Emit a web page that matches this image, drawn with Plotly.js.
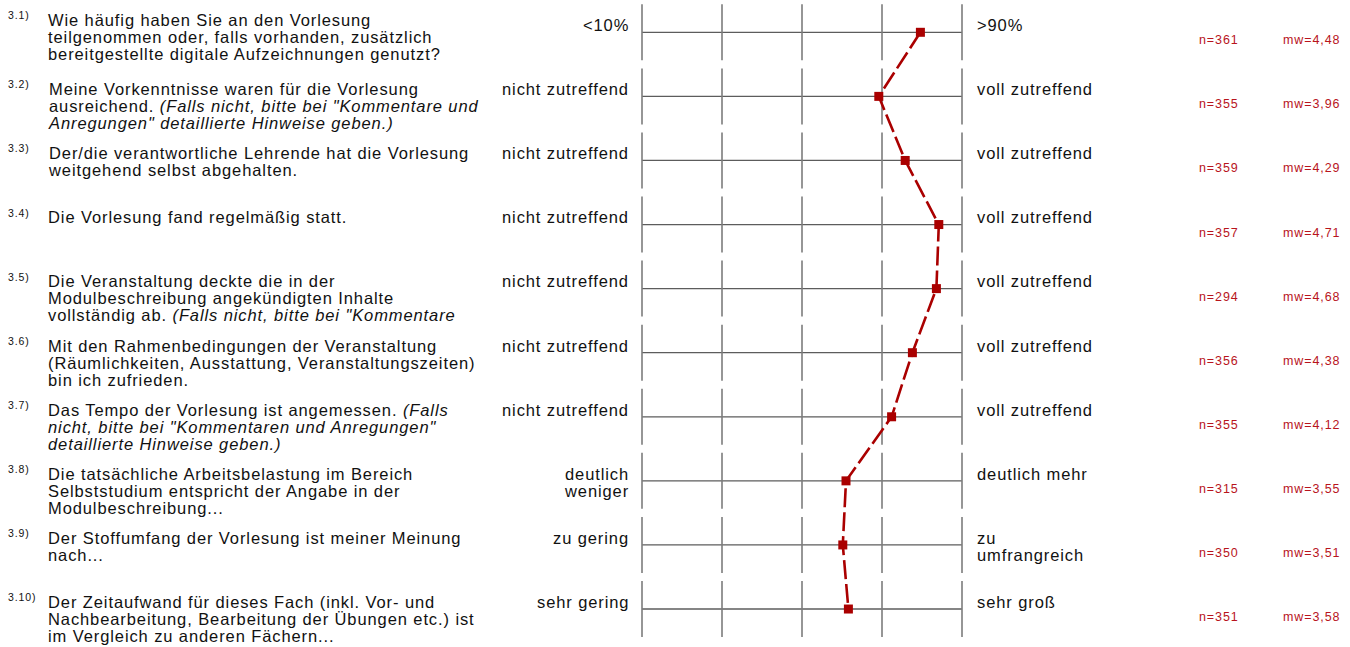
<!DOCTYPE html>
<html>
<head>
<meta charset="utf-8">
<script src="https://cdn.plot.ly/plotly-3.0.1.min.js"></script>
<style>
  html, body { margin: 0; padding: 0; background: #fff; }
  #chart { width: 1350px; height: 647px; }
  .annotation-text { letter-spacing: 0.9px; }
</style>
</head>
<body>
<div id="chart"></div>
<script>
// ---- data ----
const questionNumbers = ['3.1)', '3.2)', '3.3)', '3.4)', '3.5)', '3.6)', '3.7)', '3.8)', '3.9)', '3.10)'];
const questionLines = [
  ['Wie häufig haben Sie an den Vorlesung', 'teilgenommen oder, falls vorhanden, zusätzlich', 'bereitgestellte digitale Aufzeichnungen genutzt?'],
  ['Meine Vorkenntnisse waren für die Vorlesung', 'ausreichend. <i>(Falls nicht, bitte bei "Kommentare und</i>', '<i>Anregungen" detaillierte Hinweise geben.)</i>'],
  ['Der/die verantwortliche Lehrende hat die Vorlesung', 'weitgehend selbst abgehalten.'],
  ['Die Vorlesung fand regelmäßig statt.'],
  ['Die Veranstaltung deckte die in der', 'Modulbeschreibung angekündigten Inhalte', 'vollständig ab. <i>(Falls nicht, bitte bei "Kommentare</i>'],
  ['Mit den Rahmenbedingungen der Veranstaltung', '(Räumlichkeiten, Ausstattung, Veranstaltungszeiten)', 'bin ich zufrieden.'],
  ['Das Tempo der Vorlesung ist angemessen. <i>(Falls</i>', '<i>nicht, bitte bei "Kommentaren und Anregungen"</i>', '<i>detaillierte Hinweise geben.)</i>'],
  ['Die tatsächliche Arbeitsbelastung im Bereich', 'Selbststudium entspricht der Angabe in der', 'Modulbeschreibung...'],
  ['Der Stoffumfang der Vorlesung ist meiner Meinung', 'nach...'],
  ['Der Zeitaufwand für dieses Fach (inkl. Vor- und', 'Nachbearbeitung, Bearbeitung der Übungen etc.) ist', 'im Vergleich zu anderen Fächern...']
];
const leftLabels = [
  ['<10%'], ['nicht zutreffend'], ['nicht zutreffend'], ['nicht zutreffend'], ['nicht zutreffend'],
  ['nicht zutreffend'], ['nicht zutreffend'], ['deutlich', 'weniger'], ['zu gering'], ['sehr gering']
];
const rightLabels = [
  ['>90%'], ['voll zutreffend'], ['voll zutreffend'], ['voll zutreffend'], ['voll zutreffend'],
  ['voll zutreffend'], ['voll zutreffend'], ['deutlich mehr'], ['zu', 'umfrangreich'], ['sehr groß']
];
const nValues = [361, 355, 359, 357, 294, 356, 355, 315, 350, 351];
const meanValues = [4.48, 3.96, 4.29, 4.71, 4.68, 4.38, 4.12, 3.55, 3.51, 3.58];
const scaleTicks = [1, 2, 3, 4, 5];

// ---- layout helpers (pixel geometry) ----
const W = 1350, H = 647;
const pxPerUnitX = 80, xAtOnePx = 642;
const rowTopPx = 32.3, rowStepPx = 64.08;
const xRange = [1 - xAtOnePx / pxPerUnitX, 1 + (W - xAtOnePx) / pxPerUnitX];
const yRange = [(H - rowTopPx) / rowStepPx, -rowTopPx / rowStepPx];
const half = 28 / rowStepPx;
const px = p => p / W;

const font = 'Liberation Sans, Arial, Helvetica, sans-serif';
const textColor = '#111111';
const redText = '#b8141c';
const mainSize = 16.5, lineGapPx = 16.9;
const topShift = 17.2;
const rowIdx = questionNumbers.map((_, i) => i);

const shapes = [];
const annotations = [];
function block(lines, xPx, anchor, i, lift) {
  annotations.push({xref: 'paper', yref: 'y', x: px(xPx), y: i, yshift: topShift + lift,
                    xanchor: anchor, yanchor: 'top', align: anchor,
                    text: lines.join('<br>'), showarrow: false, borderpad: 0,
                    font: {family: font, size: mainSize, color: textColor}});
}
rowIdx.forEach(i => {
  shapes.push({type: 'line', xref: 'x', yref: 'y', x0: scaleTicks[0], x1: scaleTicks[scaleTicks.length - 1],
               y0: i, y1: i, line: {color: '#5c5c5c', width: 1.3}, layer: 'below'});
  scaleTicks.forEach(t => {
    shapes.push({type: 'line', xref: 'x', yref: 'y', x0: t, x1: t, y0: i - half, y1: i + half,
                 line: {color: '#7c7c7c', width: 1.6}, layer: 'below'});
  });
  const qLift = i === 0 ? 5 : 0;
  annotations.push({xref: 'paper', yref: 'y', x: px(7), y: i, yshift: 12 + qLift, xanchor: 'left', yanchor: 'middle',
                    text: questionNumbers[i], showarrow: false, borderpad: 0,
                    font: {family: font, size: 10.5, color: textColor}});
  block(questionLines[i], 47, 'left', i, qLift);
  block(leftLabels[i], 630, 'right', i, 0);
  block(rightLabels[i], 976, 'left', i, 0);
  annotations.push({xref: 'paper', yref: 'y', x: px(1240), y: i, yshift: -8, xanchor: 'right', yanchor: 'middle',
                    text: 'n=' + nValues[i], showarrow: false, borderpad: 0,
                    font: {family: font, size: 12.5, color: redText}});
  annotations.push({xref: 'paper', yref: 'y', x: px(1341), y: i, yshift: -8, xanchor: 'right', yanchor: 'middle',
                    text: 'mw=' + meanValues[i].toFixed(2).replace('.', ','), showarrow: false, borderpad: 0,
                    font: {family: font, size: 12.5, color: redText}});
});

const trace = {
  type: 'scatter', mode: 'lines+markers',
  x: meanValues, y: rowIdx,
  line: {color: '#aa0000', width: 2.6, dash: '19px,5px'},
  marker: {symbol: 'square', size: 9, color: '#aa0000'},
  hoverinfo: 'skip', cliponaxis: false
};

const layout = {
  width: W, height: H,
  margin: {l: 0, r: 0, t: 0, b: 0, pad: 0},
  paper_bgcolor: '#ffffff', plot_bgcolor: '#ffffff',
  showlegend: false,
  xaxis: {range: xRange, visible: false, fixedrange: true},
  yaxis: {range: yRange, visible: false, fixedrange: true},
  shapes: shapes,
  annotations: annotations,
  font: {family: font}
};

Plotly.newPlot('chart', [trace], layout, {displayModeBar: false, staticPlot: true}).then(gd => {
  // set the leading of multi-line texts to match the reference
  gd.querySelectorAll('.annotation-text').forEach(t => {
    t.querySelectorAll('tspan.line').forEach(ts => {
      const dy = parseFloat(ts.getAttribute('dy'));
      if (!isNaN(dy) && dy > 0) {
        const n = Math.round(dy / 1.3);
        ts.setAttribute('dy', (n * lineGapPx) + 'px');
      }
    });
  });
});
</script>
</body>
</html>
